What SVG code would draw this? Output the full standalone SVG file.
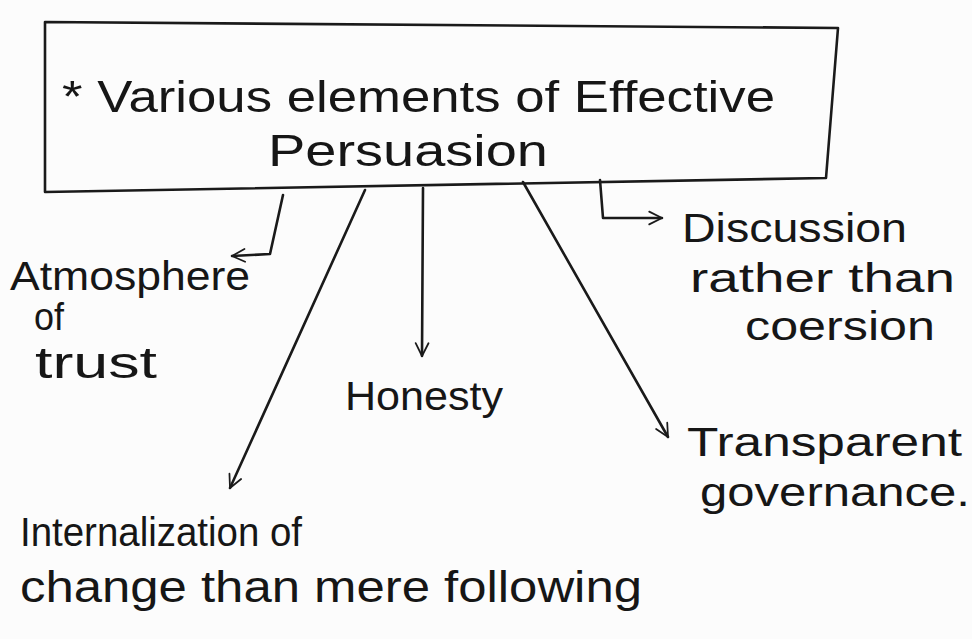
<svg xmlns="http://www.w3.org/2000/svg" width="972" height="639" viewBox="0 0 972 639">
<style>
.t{font-family:"Liberation Sans","DejaVu Sans",sans-serif;fill:#161616;}
.ln{fill:none;stroke:#1a1a1a;stroke-width:2.6;stroke-linecap:round;stroke-linejoin:round;}
</style>
<defs>
<marker id="ah" viewBox="0 0 20 20" refX="18" refY="10" markerWidth="16" markerHeight="16" markerUnits="userSpaceOnUse" orient="auto">
<path d="M2,2 L18,10 L2,18" fill="none" stroke="#1a1a1a" stroke-width="2.2" stroke-linecap="round" stroke-linejoin="round"/>
</marker>
</defs>
<rect width="972" height="639" fill="#fcfcfc"/>
<g id="root">
<path class="ln" d="M45,22 L838,28 L826,178 L45,192 Z"/>
<text class="t" x="62" y="112" font-size="44" textLength="713" lengthAdjust="spacingAndGlyphs">* Various elements of Effective</text>
<text class="t" x="268" y="166" font-size="44" textLength="280" lengthAdjust="spacingAndGlyphs">Persuasion</text>
</g>
<g id="connectors">
<path class="ln" d="M283,195 L270,254 L232,256" marker-end="url(#ah)"/>
<path class="ln" d="M365,190 L230,488" marker-end="url(#ah)"/>
<path class="ln" d="M423,188 L422,356" marker-end="url(#ah)"/>
<path class="ln" d="M523,182 L668,437" marker-end="url(#ah)"/>
<path class="ln" d="M600,180 L603,218 L662,218" marker-end="url(#ah)"/>
</g>
<g id="atmosphere">
<text class="t" x="10" y="290" font-size="40" textLength="240" lengthAdjust="spacingAndGlyphs">Atmosphere</text>
<text class="t" x="34" y="330" font-size="38" textLength="30" lengthAdjust="spacingAndGlyphs">of</text>
<text class="t" x="35" y="378" font-size="44" textLength="122" lengthAdjust="spacingAndGlyphs">trust</text>
</g>
<g id="honesty">
<text class="t" x="345" y="410" font-size="40" textLength="158" lengthAdjust="spacingAndGlyphs">Honesty</text>
</g>
<g id="discussion">
<text class="t" x="682" y="242" font-size="40" textLength="225" lengthAdjust="spacingAndGlyphs">Discussion</text>
<text class="t" x="690" y="292" font-size="40" textLength="265" lengthAdjust="spacingAndGlyphs">rather than</text>
<text class="t" x="745" y="340" font-size="40" textLength="190" lengthAdjust="spacingAndGlyphs">coersion</text>
</g>
<g id="transparent">
<text class="t" x="687" y="456" font-size="40" textLength="275" lengthAdjust="spacingAndGlyphs">Transparent</text>
<text class="t" x="700" y="506" font-size="40" textLength="270" lengthAdjust="spacingAndGlyphs">governance.</text>
</g>
<g id="internalization">
<text class="t" x="20" y="546" font-size="40" textLength="282" lengthAdjust="spacingAndGlyphs">Internalization of</text>
<text class="t" x="20" y="602" font-size="44" textLength="622" lengthAdjust="spacingAndGlyphs">change than mere following</text>
</g>
</svg>
